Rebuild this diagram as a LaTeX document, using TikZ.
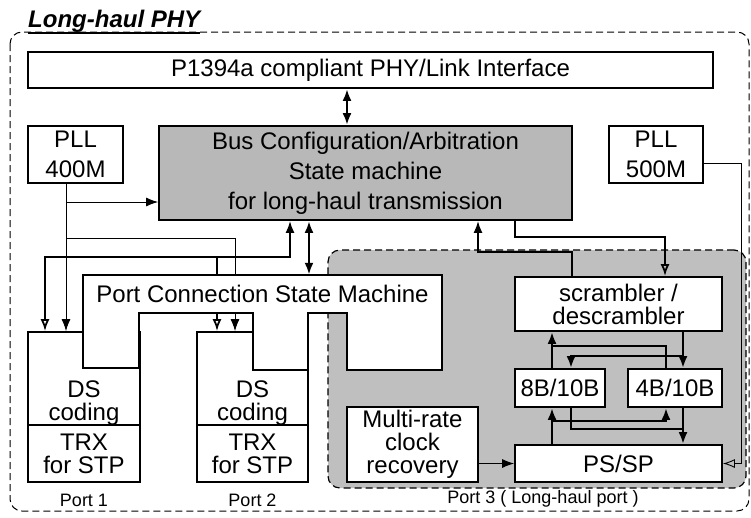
\documentclass[tikz,border=0pt]{standalone}
\usepackage{fontspec}
\setmainfont{Liberation Sans}
\usetikzlibrary{arrows.meta,positioning}

\begin{document}
\begin{tikzpicture}[x=1pt, y=-1pt,
  >={Latex[length=12pt,width=9pt]},
  box/.style={rectangle, draw, line width=1.8pt, fill=white, inner sep=0pt, align=center, font=\fontsize{24}{30}\selectfont},
  tbox/.style={box, font=\fontsize{24}{23}\selectfont},
  graybox/.style={box, fill=black!28},
  txt/.style={inner sep=0pt, align=center, font=\fontsize{24}{23}\selectfont},
  region/.style={draw, dash pattern=on 7pt off 4pt, line width=1pt, rounded corners=12pt},
  lbl/.style={inner sep=0pt, font=\fontsize{18}{20}\selectfont},
  wire/.style={line width=0.9pt},
  midwire/.style={line width=1.8pt},
  fatwire/.style={line width=2.4pt},
  oarrow/.style={-{Latex[open,length=12pt,width=9pt]}}
]
\useasboundingbox (0,0) rectangle (751,517);

% frame and title
\draw[region] (10,32) rectangle (749,511);
\node[anchor=south west, inner sep=0pt, font=\fontsize{24}{26}\selectfont\bfseries\itshape] (title) at (28,33) {Long-haul PHY};
\draw[line width=1.6pt] (title.south west) -- (title.south east);

% port 3 area
\node[region, fill=black!25, line width=1.2pt, minimum width=418, minimum height=238, inner sep=0pt] (port3) at (537,369) {};
\node[lbl] (port3lbl) at (543,499) {Port 3 ( Long-haul port )};

% blocks
\node[box, minimum width=685, minimum height=36] (link) at (370.5,70) {P1394a compliant PHY/Link Interface};
\node[box, minimum width=95, minimum height=57] (pllA) at (75.5,154.5) {PLL\\400M};
\node[graybox, minimum width=413, minimum height=94] (bus) at (365.5,173) {Bus Configuration/Arbitration\\State machine\\for long-haul transmission};
\node[box, minimum width=94, minimum height=57] (pllB) at (656,154.5) {PLL\\500M};

\node[box, minimum width=112, minimum height=93] (ds1) at (84,378.5) {};
\node[txt, anchor=south] (ds1txt) at (ds1.south) {DS\\coding};
\node[tbox, minimum width=112, minimum height=57] (trx1) at (84,453.5) {TRX\\for STP};
\node[lbl] (port1lbl) at (84,500) {Port 1};

\node[box, minimum width=111, minimum height=93] (ds2) at (252.5,378.5) {};
\node[txt, anchor=south] (ds2txt) at (ds2.south) {DS\\coding};
\node[tbox, minimum width=111, minimum height=57] (trx2) at (252.5,453.5) {TRX\\for STP};
\node[lbl] (port2lbl) at (252.5,500) {Port 2};

\node[tbox, minimum width=207, minimum height=54] (scr) at (618.5,304) {scrambler /\\descrambler};
\node[box, minimum width=90, minimum height=38] (enc8) at (560,388) {8B/10B};
\node[box, minimum width=94, minimum height=38] (enc4) at (675,388) {4B/10B};
\node[box, minimum width=207, minimum height=37] (pssp) at (618.5,463.5) {PS/SP};
\node[tbox, minimum width=131, minimum height=75] (cdr) at (412.5,444.5) {Multi-rate\\clock\\recovery};

% clocks
\draw[wire, ->] (66,0 |- pllA.south) -- (66,0 |- ds1.north);
\draw[wire, ->] (66,202) -- (bus.west |- 66,202);
\draw[wire, ->] (66,238) -| (235,0 |- ds2.north);
\draw[wire, oarrow] ([yshift=-9pt]pllB.east) -| (741,0 |- pssp.east) -- (pssp.east);
\draw[wire, ->] (cdr.east |- pssp.west) -- (pssp.west);

% bus config to ports 1,2
\draw[midwire, {Latex[open,length=12pt,width=9pt]}->] (45,0 |- ds1.north) |- (290,257) -- (290,0 |- bus.south);
\draw[midwire, oarrow] (217,257) -- (217,0 |- ds2.north);

% port connection state machine
\draw[line width=1.8pt, fill=white] (83,275) -- (442,275) -- (442,370) -- (347,370) -- (347,313) -- (308,313) -- (308,370)
  -- (253,370) -- (253,313) -- (139,313) -- (139,368) -- (83,368) -- cycle;
\node[txt, minimum width=359, minimum height=38] (pcsm) at (262.5,294) {Port Connection State Machine};

\draw[fatwire, <->] (347,0 |- link.south) -- (347,0 |- bus.north);
\draw[fatwire, <->] (309,0 |- bus.south) -- (309,0 |- pcsm.north);
\draw[midwire, ->] (572,0 |- scr.north) |- (478,252) -- (478,0 |- bus.south);
\draw[midwire, oarrow] (515,0 |- bus.south) |- (665,237) -- (665,0 |- scr.north);

% coders
\draw[fatwire, ->] (552,0 |- enc8.north) -- (552,0 |- scr.south);
\draw[fatwire] (666,0 |- enc4.north) |- (552,346);
\draw[fatwire, ->] (683,0 |- scr.south) -- (683,0 |- enc4.north);
\draw[fatwire, ->] (683,356) -| (571,0 |- enc8.north);
\draw[fatwire, ->] (552,0 |- pssp.north) -- (552,0 |- enc8.south);
\draw[fatwire, ->] (552,421) -| (666,0 |- enc4.south);
\draw[fatwire, ->] (683,0 |- enc4.south) -- (683,0 |- pssp.north);
\draw[fatwire] (571,0 |- enc8.south) |- (683,429);

\end{tikzpicture}
\end{document}
